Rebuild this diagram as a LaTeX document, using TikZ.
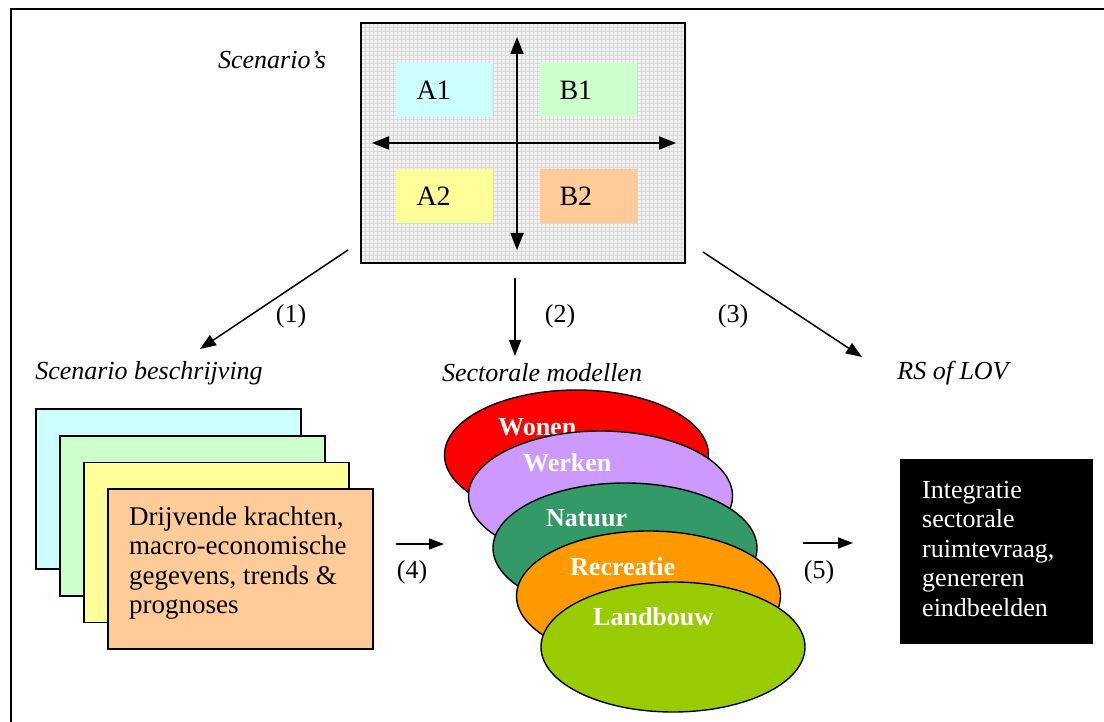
\documentclass[tikz,border=0pt]{standalone}
\usepackage{fontspec}
\setmainfont{Liberation Serif}
\usetikzlibrary{shapes.geometric,arrows.meta}
\definecolor{cA1}{HTML}{CCFFFF}
\definecolor{cB1}{HTML}{CCFFCC}
\definecolor{cA2}{HTML}{FFFF99}
\definecolor{cB2}{HTML}{FFCC99}
\definecolor{cWonen}{HTML}{FF0000}
\definecolor{cWerken}{HTML}{CC99FF}
\definecolor{cNatuur}{HTML}{339966}
\definecolor{cRecr}{HTML}{FF9900}
\definecolor{cLand}{HTML}{99CC00}
\begin{document}
\begin{tikzpicture}[x=1pt,y=-1pt,
  txt/.style={font=\fontsize{26}{29.5}\selectfont, inner sep=0pt},
  itl/.style={font=\fontsize{26}{29.5}\selectfont\itshape, inner sep=0pt},
  quad/.style={minimum width=97pt, minimum height=54pt, inner sep=0pt},
  qtxt/.style={font=\fontsize{28}{30}\selectfont, inner sep=0pt, anchor=west},
  card/.style={draw, line width=1.4pt, minimum width=265pt, minimum height=160pt, inner sep=0pt},
  sect/.style={ellipse, draw, line width=1.4pt, minimum width=264pt, minimum height=130pt, inner sep=0pt},
  stxt/.style={font=\fontsize{26}{28}\selectfont\bfseries, text=white, inner sep=0pt, anchor=west},
  arr/.style={line width=1.5pt, -{Triangle[length=16pt,width=12pt]}},
  sarr/.style={line width=1.5pt, -{Triangle[length=15pt,width=11pt]}},
  dblarr/.style={line width=1.8pt, {Triangle[length=17pt,width=13pt]}-{Triangle[length=17pt,width=13pt]}}
]
\useasboundingbox (0,0) rectangle (1104,722);
% outer frame
\draw[line width=2pt] (11,722) -- (11,9) -- (1104,9);

% scenario box
\node[fill=gray!10, minimum width=324pt, minimum height=240pt, inner sep=0pt] (scen) at (523,143) {};
\begin{scope}
  \clip (361,23) rectangle (685,263);
  \foreach \i in {0,...,81} {\draw[gray!30, line width=0.5pt] (361+4*\i,23) -- (361+4*\i,263);}
  \foreach \j in {0,...,60} {\draw[gray!30, line width=0.5pt] (361,23+4*\j) -- (685,23+4*\j);}
\end{scope}
\draw[line width=2.4pt] (scen.north west) rectangle (scen.south east);
\node[quad, fill=cA1] (a1) at (444,90) {};
\node[quad, fill=cB1] (b1) at (588,90) {};
\node[quad, fill=cA2] (a2) at (444,196) {};
\node[quad, fill=cB2] (b2) at (588,196) {};
\node[qtxt] at ([xshift=21pt]a1.west) {A1};
\node[qtxt] at ([xshift=20pt]b1.west) {B1};
\node[qtxt] at ([xshift=21pt]a2.west) {A2};
\node[qtxt] at ([xshift=20pt]b2.west) {B2};
\coordinate (vt) at (517,37);
\coordinate (vb) at (517,250);
\coordinate (hl) at (372,143);
\coordinate (hr) at (676,143);
\draw[dblarr] (vb) -- (vt);
\draw[dblarr] (hl) -- (hr);
\node[itl] (scenlbl) at (272,60) {Scenario’s};

% arrows 1-3
\coordinate (o1) at (348,250);
\coordinate (e1) at (200,349);
\coordinate (o2) at (515,278);
\coordinate (e2) at (515,356);
\coordinate (o3) at (703,252);
\coordinate (e3) at (862,357);
\draw[arr] (o1) -- (e1);
\draw[arr] (o2) -- (e2);
\draw[arr] (o3) -- (e3);
\node[txt] (l1) at (291,316) {(1)};
\node[txt] (l2) at (560,316) {(2)};
\node[txt] (l3) at (733,316) {(3)};

\node[itl] (hd1) at (149,373) {Scenario beschrijving};
\node[itl] (hd2) at (542,373) {Sectorale modellen};
\node[itl] (hd3) at (953,373) {RS of LOV};

% cards
\node[card, fill=cA1] (c1) at (168.5,489) {};
\node[card, fill=cB1] (c2) at (192.5,516) {};
\node[card, fill=cA2] (c3) at (216.5,542.5) {};
\node[card, fill=cB2] (c4) at (240.5,569) {};
\node[txt, font=\fontsize{27}{29.5}\selectfont, align=left, anchor=west] (ctext) at (129,563) {Drijvende krachten,\\macro-economische\\gegevens, trends \&\\prognoses};

% arrow 4
\coordinate (f4) at (396,544);
\coordinate (t4) at (444,544);
\draw[sarr] (f4) -- (t4);
\node[txt] (l4) at (412,572) {(4)};

% sector ellipses
\node[sect, fill=cWonen] (wonen) at (576.5,455) {};
\node[stxt] at (498,427) {Wonen};
\node[sect, fill=cWerken] (werken) at (600.5,496) {};
\node[stxt] at (523,463) {Werken};
\node[sect, fill=cNatuur] (natuur) at (625,548) {};
\node[stxt] at (546,518) {Natuur};
\node[sect, fill=cRecr] (recr) at (648.5,596) {};
\node[stxt] at (570,567) {Recreatie};
\node[sect, fill=cLand] (land) at (673,647) {};
\node[stxt] at (593,617) {Landbouw};

% arrow 5
\coordinate (f5) at (803,543);
\coordinate (t5) at (853,543);
\draw[sarr] (f5) -- (t5);
\node[txt] (l5) at (819,572) {(5)};

% black box
\node[fill=black, minimum width=193pt, minimum height=185pt, inner sep=0pt] (integ) at (996.5,551.5) {};
\node[txt, text=white, align=left, anchor=west] (itext) at (922,549) {Integratie\\sectorale\\ruimtevraag,\\genereren\\eindbeelden};
\end{tikzpicture}
\end{document}
